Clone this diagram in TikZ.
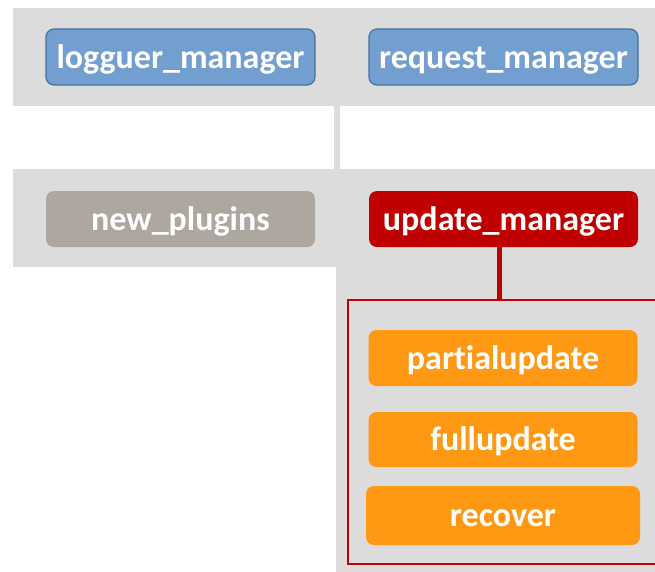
\documentclass[tikz,border=0pt]{standalone}
\usepackage{fontspec}
\setmainfont[Ligatures=NoCommon]{Carlito}
\definecolor{bandgray}{HTML}{DCDCDC}
\definecolor{bluefill}{HTML}{729FCF}
\definecolor{blueline}{HTML}{41719C}
\definecolor{stonegray}{HTML}{AEA79F}
\definecolor{darkred}{HTML}{C00000}
\definecolor{orangefill}{HTML}{FF9914}
\begin{document}
\begin{tikzpicture}[x=1pt,y=-1pt,
  band/.style={rectangle,fill=bandgray,draw=none,inner sep=0pt,outer sep=0pt},
  module/.style={rectangle,rounded corners=8pt,inner sep=0pt,outer sep=0pt,
    minimum width=269pt,minimum height=56pt,text=white,
    text height=30pt,text depth=8pt,
    font=\bfseries\fontsize{34}{40}\selectfont},
  manager/.style={module,fill=bluefill,draw=blueline,line width=1.2pt},
  plugin/.style={module,fill=stonegray},
  core/.style={module,fill=darkred},
  action/.style={module,fill=orangefill}]
\useasboundingbox (0,0) rectangle (655,571);
\clip (0,0) rectangle (655,571);

% background bands
\node[band,minimum width=652pt,minimum height=98pt] (top) at (339,57) {};
\node[band,minimum width=652pt,minimum height=98pt] (mid) at (339,218) {};
\node[band,minimum width=329pt,minimum height=310pt] (low) at (500.5,421) {};

% gray link between the bands
\coordinate (sx) at (337,0);
\draw[bandgray,line width=6pt] (top.south -| sx) -- (mid.north -| sx);

% modules
\node[manager] (log) at (180.5,57) {logguer\_manager};
\node[manager] (req) at (503.5,57) {request\_manager};
\node[plugin]  (new) at (180.5,219) {new\_plugins};
\node[core]    (upd) at (503.5,219) {update\_manager};

% update group
\node[rectangle,draw=darkred,line width=1.5pt,minimum width=317pt,
  minimum height=264pt,inner sep=0pt] (grp) at (506.5,432) {};
\coordinate (rx) at (499.5,0);
\draw[darkred,line width=5pt] (upd.south -| rx) -- (grp.north -| rx);

\node[action] (partial) at (503,358) {partialupdate};
\node[action,minimum height=55pt] (full) at (503,439.5) {fullupdate};
\node[action,minimum width=274pt,minimum height=59pt] (recover) at (503,515.5) {recover};
\end{tikzpicture}
\end{document}
